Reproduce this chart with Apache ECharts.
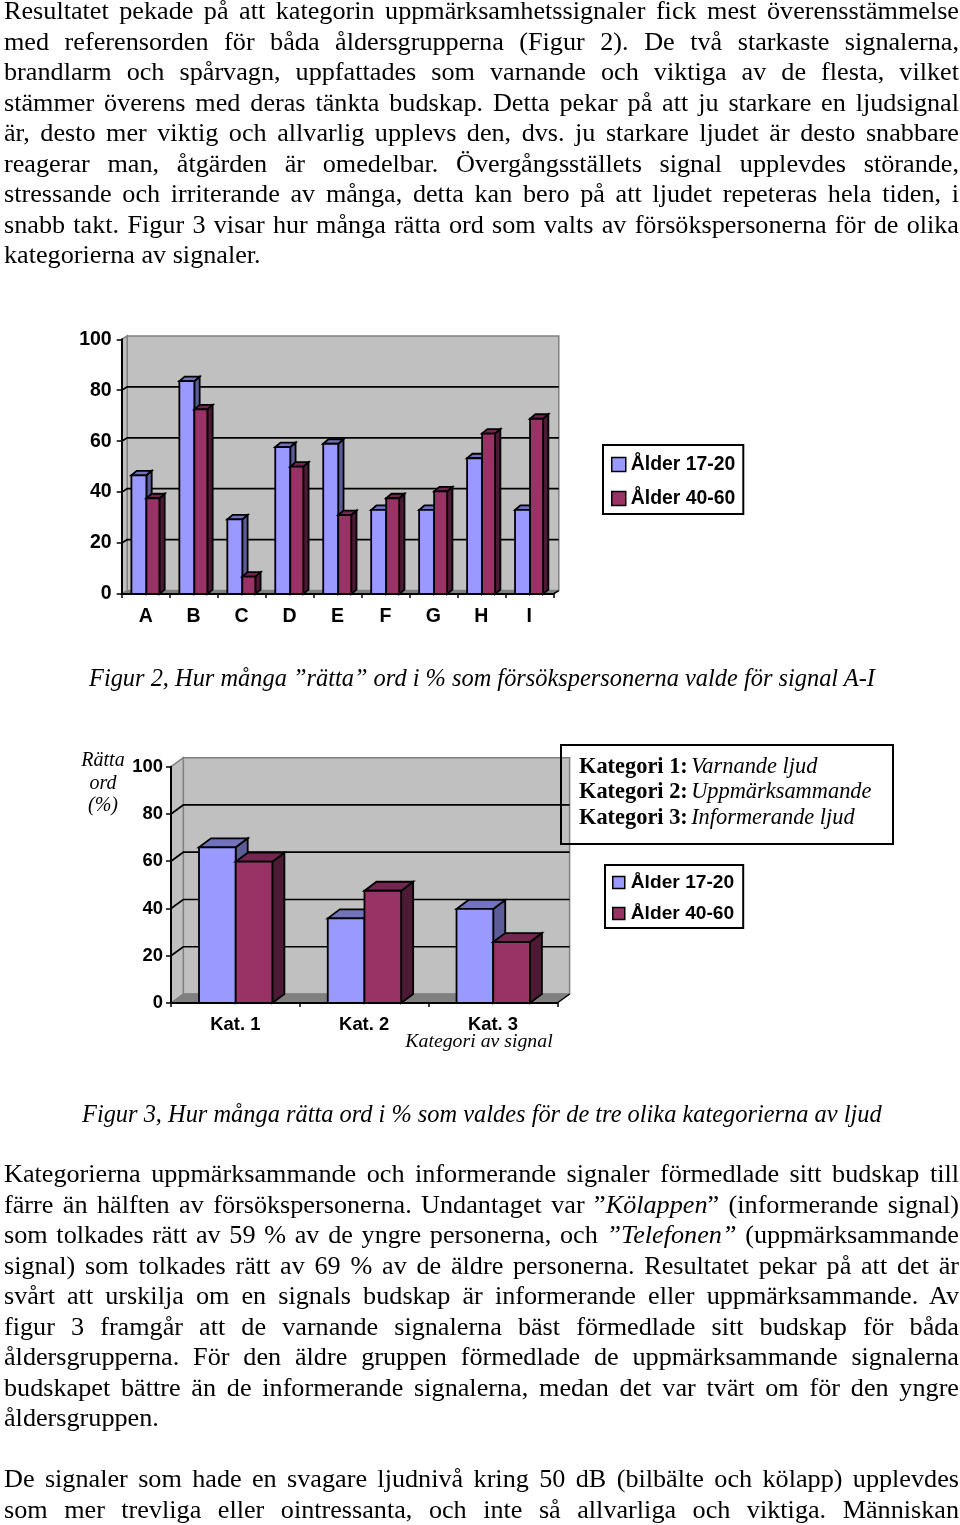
<!DOCTYPE html>
<html>
<head>
<meta charset="utf-8">
<script src="https://cdn.jsdelivr.net/npm/echarts@6/dist/echarts.min.js"></script>
<style>
  html, body { margin: 0; padding: 0; background: #fff; }
  #page { position: relative; width: 960px; height: 1525px; overflow: hidden; }
  #chart { position: absolute; left: 0; top: 0; width: 960px; height: 1525px; }
  .line { position: absolute; left: 4px; width: 955px; font-family: "Liberation Serif", serif; font-size: 26.2px;
          line-height: 30px; color: #000; white-space: nowrap; text-align: justify; text-align-last: justify; }
  .line.last { text-align-last: left; }
  .cap { position: absolute; font-family: "Liberation Serif", serif; font-style: italic; font-size: 24.4px;
         line-height: 30px; color: #000; white-space: nowrap; }
</style>
</head>
<body>
<div id="page">
  <div id="chart"></div>
  <div id="text"></div>
</div>
<script>
// figur 2
var signalNames = ['A', 'B', 'C', 'D', 'E', 'F', 'G', 'H', 'I'];
var signalYoung = [46.6, 83.6, 29.3, 57.7, 59, 33, 33, 53.3, 33];
var signalOld = [37.6, 72.5, 6.8, 50, 31, 37.6, 40.3, 63, 68.8];

// figur 3
var katNames = ['Kat. 1', 'Kat. 2', 'Kat. 3'];
var katYoung = [65.9, 35.8, 39.8];
var katOld = [59.8, 47.5, 25.8];

var ageNames = ['Ålder 17-20', 'Ålder 40-60'];
var gridTicks = [20, 40, 60, 80];

var topLines = [
  'Resultatet pekade på att kategorin uppmärksamhetssignaler fick mest överensstämmelse',
  'med referensorden för båda åldersgrupperna (Figur 2). De två starkaste signalerna,',
  'brandlarm och spårvagn, uppfattades som varnande och viktiga av de flesta, vilket',
  'stämmer överens med deras tänkta budskap. Detta pekar på att ju starkare en ljudsignal',
  'är, desto mer viktig och allvarlig upplevs den, dvs. ju starkare ljudet är desto snabbare',
  'reagerar man, åtgärden är omedelbar. Övergångsställets signal upplevdes störande,',
  'stressande och irriterande av många, detta kan bero på att ljudet repeteras hela tiden, i',
  'snabb takt. Figur 3 visar hur många rätta ord som valts av försökspersonerna för de olika',
  '*kategorierna av signaler.'
];
var midLines = [
  'Kategorierna uppmärksammande och informerande signaler förmedlade sitt budskap till',
  'färre än hälften av försökspersonerna. Undantaget var ”<i>Kölappen</i>” (informerande signal)',
  'som tolkades rätt av 59 % av de yngre personerna, och <i>”Telefonen”</i> (uppmärksammande',
  'signal) som tolkades rätt av 69 % av de äldre personerna. Resultatet pekar på att det är',
  'svårt att urskilja om en signals budskap är informerande eller uppmärksammande. Av',
  'figur 3 framgår att de varnande signalerna bäst förmedlade sitt budskap för båda',
  'åldersgrupperna. För den äldre gruppen förmedlade de uppmärksammande signalerna',
  'budskapet bättre än de informerande signalerna, medan det var tvärt om för den yngre',
  '*åldersgruppen.'
];
var endLines = [
  'De signaler som hade en svagare ljudnivå kring 50 dB (bilbälte och kölapp) upplevdes',
  'som mer trevliga eller ointressanta, och inte så allvarliga och viktiga. Människan'
];
var caption2 = 'Figur 2, Hur många ”rätta” ord i % som försökspersonerna valde för signal A-I';
var caption3 = 'Figur 3, Hur många rätta ord i % som valdes för de tre olika kategorierna av ljud';

function addLines(lines, top) {
  var box = document.getElementById('text');
  lines.forEach(function (s, i) {
    var d = document.createElement('div');
    d.className = 'line';
    if (s.charAt(0) == '*') { d.className = 'line last'; s = s.slice(1); }
    d.innerHTML = s;
    d.style.top = (top + i * 30.55) + 'px';
    box.appendChild(d);
  });
}
function addCaption(s, left, top) {
  var d = document.createElement('div');
  d.className = 'cap';
  d.textContent = s;
  d.style.left = left + 'px';
  d.style.top = top + 'px';
  document.getElementById('text').appendChild(d);
}
addLines(topLines, -4);
addLines(midLines, 1159);
addLines(endLines, 1464);
addCaption(caption2, 89, 663);
addCaption(caption3, 82, 1099);

// utseende for figurerna, offset = avstand fran bandets start till forsta stapeln
var fig2 = { offset: 9.7, w0: 15, w1: 13, bx: 5.3, by: 4.5, wx: 5.5, wy: 3.4 };
var fig3 = { offset: 28, w0: 36.7, w1: 36.7, bx: 12, by: 9, wx: 12.3, wy: 9 };

var C_WALL = '#c0c0c0', C_FLOOR = '#808080';
var barColors = [
  { front: '#9999ff', top: '#7272bd', side: '#5c5c99' },
  { front: '#993366', top: '#732650', side: '#4d1a33' }
];

function poly(points, fill, stroke, lw) {
  return {
    type: 'polygon',
    shape: { points: points },
    style: { fill: fill, stroke: stroke, lineWidth: lw }
  };
}

function wallItem(fig) {
  return function (params, api) {
    var c = params.coordSys;
    var x0 = c.x, x1 = c.x + c.width, yt = c.y, yb = c.y + c.height;
    var dx = fig.wx, dy = fig.wy;
    var kids = [
      poly([[x0 + dx, yt - dy], [x1 + dx, yt - dy], [x1 + dx, yb - dy], [x0 + dx, yb - dy]], C_WALL, C_FLOOR, 1.5),
      poly([[x0, yt], [x0 + dx, yt - dy], [x0 + dx, yb - dy], [x0, yb]], C_WALL, C_FLOOR, 1.5),
      poly([[x0, yb], [x0 + dx, yb - dy], [x1 + dx, yb - dy], [x1, yb]], C_FLOOR, C_FLOOR, 1)
    ];
    gridTicks.forEach(function (v) {
      var y = api.coord([0, v])[1];
      kids.push({
        type: 'polyline',
        shape: { points: [[x0, y], [x0 + dx, y - dy], [x1 + dx, y - dy]] },
        style: { fill: 'none', stroke: '#000', lineWidth: 1.7 }
      });
    });
    kids.push({
      type: 'line',
      shape: { x1: x1, y1: yb, x2: x1 + dx, y2: yb - dy },
      style: { stroke: '#000', lineWidth: 1.5 }
    });
    return { type: 'group', children: kids };
  };
}

function barItem(fig, k) {
  return function (params, api) {
    var i = api.value(0);
    var band = api.size([1, 0])[0];
    var p = api.coord([i, api.value(1)]);
    var base = api.coord([i, 0]);
    var left = p[0] - band / 2 + fig.offset + (k == 1 ? fig.w0 : 0);
    var w = k == 1 ? fig.w1 : fig.w0;
    var right = left + w, top = p[1], bot = base[1];
    var dx = fig.bx, dy = fig.by, col = barColors[k];
    return {
      type: 'group',
      children: [
        poly([[right, top], [right + dx, top - dy], [right + dx, bot - dy], [right, bot]], col.side, '#000', 1.8),
        poly([[left, top], [left + dx, top - dy], [right + dx, top - dy], [right, top]], col.top, '#000', 1.8),
        poly([[left, top], [right, top], [right, bot], [left, bot]], col.front, '#000', 1.8)
      ]
    };
  };
}

function wallSeries(fig, ax) {
  return {
    type: 'custom', xAxisIndex: ax, yAxisIndex: ax, z: 1, clip: false, silent: true,
    renderItem: wallItem(fig), data: [[0, 0]], encode: { x: 0, y: 1 }
  };
}
function barSeries(fig, ax, k, vals) {
  return {
    type: 'custom', name: ageNames[k], xAxisIndex: ax, yAxisIndex: ax, z: 5, clip: false,
    itemStyle: { color: barColors[k].front },
    renderItem: barItem(fig, k),
    data: vals.map(function (v, i) { return [i, v]; }),
    encode: { x: 0, y: 1 }
  };
}

var axisFont = { fontFamily: 'Liberation Sans', fontWeight: 'bold', color: '#000' };
var axisLine = { show: true, onZero: false, lineStyle: { color: '#000', width: 2 } };
function catAxis(grid, names, size) {
  return {
    type: 'category', gridIndex: grid, data: names, z: 6,
    axisLine: axisLine,
    axisTick: { show: true, length: 4, lineStyle: { color: '#000', width: 1.5 } },
    axisLabel: Object.assign({ fontSize: size, margin: 13, interval: 0 }, axisFont)
  };
}
function valAxis(grid, size, margin) {
  return {
    type: 'value', gridIndex: grid, min: 0, max: 100, interval: 20, z: 6,
    splitLine: { show: false },
    axisLine: axisLine,
    axisTick: { show: true, length: 5, lineStyle: { color: '#000', width: 1.5 } },
    axisLabel: Object.assign({ fontSize: size, margin: margin }, axisFont)
  };
}
function legendBox(left, top, size, icon, gap, pad, textLeft) {
  return {
    left: left, top: top, orient: 'vertical', data: ageNames, selectedMode: false,
    icon: 'rect', itemWidth: icon, itemHeight: icon, itemGap: gap, padding: pad,
    backgroundColor: '#fff', borderColor: '#000', borderWidth: 2,
    itemStyle: { borderColor: '#000', borderWidth: 1.5 },
    textStyle: Object.assign({ fontSize: size, padding: [0, 0, 0, textLeft] }, axisFont)
  };
}
function serifText(x, y, text, size, align) {
  return {
    type: 'text', x: x, y: y, z: 20,
    style: {
      text: text, fill: '#000', align: align || 'center', verticalAlign: 'middle',
      font: 'italic ' + size + 'px "Liberation Serif"'
    }
  };
}
function katRow(y, num, text) {
  return {
    type: 'text', x: 579, y: y, z: 20,
    style: {
      text: '{b|Kategori ' + num + ':} {i|' + text + '}', verticalAlign: 'middle',
      rich: {
        b: { font: 'bold 22.4px "Liberation Serif"', fill: '#000' },
        i: { font: 'italic 22.4px "Liberation Serif"', fill: '#000' }
      }
    }
  };
}

var option = {
  backgroundColor: '#fff',
  animation: false,
  tooltip: { show: false },
  grid: [
    { left: 121.7, top: 339.3, width: 431.6, height: 254.7 },
    { left: 171, top: 766.7, width: 386.3, height: 236.3 }
  ],
  xAxis: [catAxis(0, signalNames, 19.5), catAxis(1, katNames, 18.4)],
  yAxis: [valAxis(0, 19.5, 10), valAxis(1, 18.4, 8)],
  legend: [
    legendBox(603, 445, 19.4, 14, 15, [10, 8, 6, 8], 0),
    legendBox(605, 865, 19.2, 12, 12, [8, 9, 5, 7], 1)
  ],
  series: [
    wallSeries(fig2, 0),
    barSeries(fig2, 0, 0, signalYoung),
    barSeries(fig2, 0, 1, signalOld),
    wallSeries(fig3, 1),
    barSeries(fig3, 1, 0, katYoung),
    barSeries(fig3, 1, 1, katOld)
  ],
  graphic: [
    serifText(103, 761, 'Rätta', 20),
    serifText(103, 784, 'ord', 20),
    serifText(103, 806, '(%)', 20),
    serifText(479, 1042, 'Kategori av signal', 19.8),
    {
      type: 'rect', z: 19,
      shape: { x: 561, y: 745, width: 332, height: 99 },
      style: { fill: 'none', stroke: '#000', lineWidth: 2 }
    },
    katRow(767, 1, 'Varnande ljud'),
    katRow(792, 2, 'Uppmärksammande'),
    katRow(818, 3, 'Informerande ljud')
  ]
};

var chart = echarts.init(document.getElementById('chart'));
chart.setOption(option);
</script>
</body>
</html>
